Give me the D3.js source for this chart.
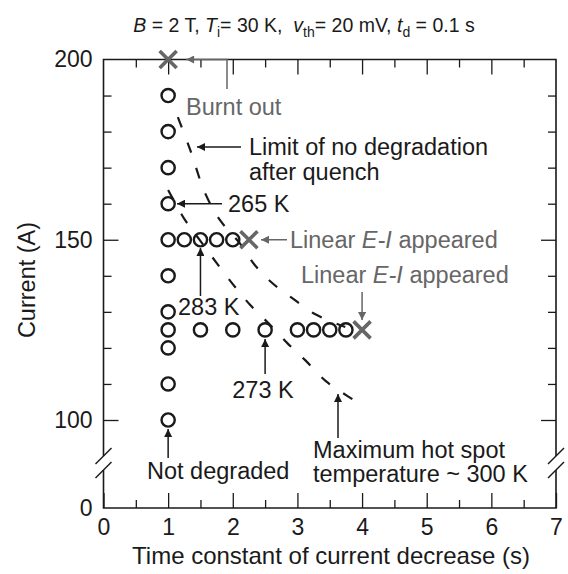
<!DOCTYPE html>
<html>
<head>
<meta charset="utf-8">
<script src="https://cdn.jsdelivr.net/npm/d3@7"></script>
<style>
  html, body { margin: 0; padding: 0; background: #fff; }
  svg { display: block; font-family: "Liberation Sans", Arial, sans-serif; }
  text { white-space: pre; }
</style>
</head>
<body>
<svg id="chart" width="568" height="574"></svg>
<script>
// Quench tests: time constant of current decrease vs. operating current
const xTicks = [0, 1, 2, 3, 4, 5, 6, 7];
const xMinorTicks = [0.5, 1.5, 2.5, 3.5, 4.5, 5.5, 6.5];
const yTicks = [0, 100, 150, 200];
const yMinorTicks = [110, 120, 130, 140, 160, 170, 180, 190];

// Not degraded samples (open circles)
const okTime    = [1, 1, 1, 1, 1, 1, 1, 1, 1, 1, 1,
                   1.25, 1.5, 1.75, 2,
                   1.5, 2, 2.5, 3, 3.25, 3.5, 3.75];
const okCurrent = [100, 110, 120, 125, 130, 140, 150, 160, 170, 180, 190,
                   150, 150, 150, 150,
                   125, 125, 125, 125, 125, 125, 125];

// Burnt out / linear E-I (crosses)
const failTime    = [1, 2.25, 4];
const failCurrent = [200, 150, 125];

// Limit of no degradation after quench
const limitTime    = [1.15, 1.34, 1.57, 1.8, 2.11, 2.34, 2.61, 2.92, 3.27, 3.74];
const limitCurrent = [184, 175, 163, 155.5, 149, 143, 138, 133.8, 129.4, 125.8];

// Maximum hot spot temperature ~ 300 K
const hotTime    = [1.0, 1.26, 1.49, 1.74, 2.0, 2.27, 2.55, 2.84, 3.12, 3.44, 3.77, 4.05];
const hotCurrent = [163.8, 155.5, 149.9, 143.8, 137.7, 131.9, 126.9, 121.4, 116.6, 110.8, 106.7, 103.6];

const svg = d3.select("#chart");
const ink = "#1a1a1a", grey = "#666666";

const x = d3.scaleLinear().domain([0, 7]).range([103.5, 556]);
// broken axis: 0 sits just under the break, 100..200 is linear
const y = d3.scaleLinear().domain([0, 100, 200]).range([508, 420, 59.5]);

// arrowheads
const defs = svg.append("defs");
[["arrowInk", ink], ["arrowGrey", grey]].forEach(([id, c]) => {
  defs.append("marker").attr("id", id)
    .attr("viewBox", "0 0 10 10").attr("refX", 10).attr("refY", 5)
    .attr("markerWidth", 10).attr("markerHeight", 8).attr("markerUnits", "userSpaceOnUse")
    .attr("orient", "auto")
    .append("path").attr("d", "M0,0 L10,5 L0,10 Z").attr("fill", c);
});

// axes with inward ticks
function styleAxis(g) {
  g.select(".domain").remove();
  g.selectAll("line").attr("stroke", ink).attr("stroke-width", 1.3);
  g.selectAll("text").attr("fill", ink).attr("font-size", 23)
    .attr("font-family", "Liberation Sans, Arial, sans-serif");
}
svg.append("g").attr("transform", `translate(0,${y(0)})`)
  .call(d3.axisBottom(x).tickValues(xTicks).tickSize(-15).tickPadding(11).tickFormat(d3.format("d")))
  .call(styleAxis);
svg.append("g").attr("transform", `translate(0,${y(0)})`)
  .call(d3.axisBottom(x).tickValues(xMinorTicks).tickSize(-8).tickFormat(""))
  .call(styleAxis);
svg.append("g").attr("transform", `translate(0,${y(200)})`)
  .call(d3.axisTop(x).tickValues(xTicks.slice(1, 7)).tickSize(-15).tickFormat(""))
  .call(styleAxis);
svg.append("g").attr("transform", `translate(0,${y(200)})`)
  .call(d3.axisTop(x).tickValues(xMinorTicks).tickSize(-8).tickFormat(""))
  .call(styleAxis);
svg.append("g").attr("transform", `translate(${x(0)},0)`)
  .call(d3.axisLeft(y).tickValues(yTicks).tickSize(-15).tickPadding(11).tickFormat(d3.format("d")))
  .call(styleAxis)
  .call(g => g.selectAll(".tick line").filter(d => d === 0 || d === 200).remove());
svg.append("g").attr("transform", `translate(${x(0)},0)`)
  .call(d3.axisLeft(y).tickValues(yMinorTicks).tickSize(-8).tickFormat(""))
  .call(styleAxis);
svg.append("g").attr("transform", `translate(${x(7)},0)`)
  .call(d3.axisRight(y).tickValues([100, 150]).tickSize(-15).tickFormat(""))
  .call(styleAxis);
svg.append("g").attr("transform", `translate(${x(7)},0)`)
  .call(d3.axisRight(y).tickValues(yMinorTicks).tickSize(-8).tickFormat(""))
  .call(styleAxis);

// frame with breaks on both vertical sides
const breakHi = 456, breakLo = 470;
const frame = d3.path();
frame.moveTo(x(0), breakHi); frame.lineTo(x(0), y(200)); frame.lineTo(x(7), y(200)); frame.lineTo(x(7), breakHi);
frame.moveTo(x(0), breakLo); frame.lineTo(x(0), y(0)); frame.lineTo(x(7), y(0)); frame.lineTo(x(7), breakLo);
svg.append("path").attr("d", frame.toString()).attr("fill", "none")
  .attr("stroke", ink).attr("stroke-width", 1.6);
[x(0), x(7)].forEach(px => {
  [breakHi, breakLo].forEach(py => {
    svg.append("line").attr("x1", px - 8).attr("y1", py + 8).attr("x2", px + 8).attr("y2", py - 8)
      .attr("stroke", ink).attr("stroke-width", 1.4);
  });
});

// dashed guide curves
const curve = d3.line().x(d => x(d[0])).y(d => y(d[1])).curve(d3.curveCatmullRom.alpha(0.5));
[[limitTime, limitCurrent], [hotTime, hotCurrent]].forEach(([ts, cs]) => {
  svg.append("path").datum(ts.map((t, i) => [t, cs[i]]))
    .attr("d", curve).attr("fill", "none")
    .attr("stroke", ink).attr("stroke-width", 2.2).attr("stroke-dasharray", "11,16");
});

// open circles
svg.append("g").selectAll("circle").data(okTime.map((t, i) => [t, okCurrent[i]]))
  .join("circle")
  .attr("cx", d => x(d[0])).attr("cy", d => y(d[1])).attr("r", 6.6)
  .attr("fill", "none").attr("stroke", ink).attr("stroke-width", 2.4);

// crosses
const s = 8.5;
svg.append("g").selectAll("path").data(failTime.map((t, i) => [t, failCurrent[i]]))
  .join("path")
  .attr("d", d => `M${x(d[0]) - s},${y(d[1]) - s}L${x(d[0]) + s},${y(d[1]) + s}M${x(d[0]) - s},${y(d[1]) + s}L${x(d[0]) + s},${y(d[1]) - s}`)
  .attr("stroke", grey).attr("stroke-width", 3.6).attr("fill", "none");

// annotations
const ann = svg.append("g").attr("font-size", 23.5);
function arrow(x1, y1, x2, y2, c, id) {
  ann.append("line").attr("x1", x1).attr("y1", y1).attr("x2", x2).attr("y2", y2)
    .attr("stroke", c).attr("stroke-width", 1.5).attr("marker-end", `url(#${id})`);
}
function label(px, py, str, c, anchor = "start") {
  return ann.append("text").attr("x", px).attr("y", py).attr("fill", c)
    .attr("text-anchor", anchor).attr("dominant-baseline", "central").text(str);
}

// Burnt out
ann.append("path").attr("d", `M227,89 L227,${y(200)} L${x(1) + 18},${y(200)}`)
  .attr("fill", "none").attr("stroke", grey).attr("stroke-width", 1.5).attr("marker-end", "url(#arrowGrey)");
label(186, 107, "Burnt out", grey);

// Limit of no degradation
arrow(241, 147, 197, 147, ink, "arrowInk");
label(249, 147, "Limit of no degradation", ink);
label(249, 172, "after quench", ink);

// 265 K
arrow(222, y(160), 177, y(160), ink, "arrowInk");
label(228, y(160), "265 K", ink);

// Linear E-I at 150 A
arrow(287, y(150), 261, y(150), grey, "arrowGrey");
const t1 = label(290, y(150), "", grey);
t1.append("tspan").text("Linear ");
t1.append("tspan").attr("font-style", "italic").text("E-I");
t1.append("tspan").text(" appeared");

// Linear E-I at 125 A
arrow(x(4), 292, x(4), 320, grey, "arrowGrey");
const t2 = label(301, 275, "", grey);
t2.append("tspan").text("Linear ");
t2.append("tspan").attr("font-style", "italic").text("E-I");
t2.append("tspan").text(" appeared");

// 283 K
arrow(x(1.5), 296, x(1.5), 248, ink, "arrowInk");
label(178, 307, "283 K", ink);

// 273 K
arrow(x(2.5), 374, x(2.5), 339, ink, "arrowInk");
label(263, 390, "273 K", ink, "middle");

// Maximum hot spot temperature
arrow(338, 438, 338, 394, ink, "arrowInk");
label(313, 450, "Maximum hot spot", ink);
label(313, 474, "temperature ~ 300 K", ink);

// Not degraded
arrow(x(1), 458, x(1), 429, ink, "arrowInk");
label(147, 471, "Not degraded", ink);

// title
const title = svg.append("text").attr("x", 304).attr("y", 32).attr("text-anchor", "middle")
  .attr("font-size", 19.5).attr("fill", ink);
title.append("tspan").attr("font-style", "italic").text("B");
title.append("tspan").text(" = 2 T, ");
title.append("tspan").attr("font-style", "italic").text("T");
title.append("tspan").attr("font-size", 14).attr("dy", 5).text("i");
title.append("tspan").attr("dy", -5).text("= 30 K,  ");
title.append("tspan").attr("font-style", "italic").text("v");
title.append("tspan").attr("font-size", 14).attr("dy", 5).text("th");
title.append("tspan").attr("dy", -5).text("= 20 mV, ");
title.append("tspan").attr("font-style", "italic").text("t");
title.append("tspan").attr("font-size", 14).attr("dy", 5).text("d");
title.append("tspan").attr("dy", -5).text(" = 0.1 s");

// axis titles
svg.append("text").attr("x", 331).attr("y", 555).attr("text-anchor", "middle")
  .attr("dominant-baseline", "central").attr("font-size", 24).attr("fill", ink)
  .text("Time constant of current decrease (s)");
svg.append("text").attr("transform", "translate(27,280) rotate(-90)").attr("text-anchor", "middle")
  .attr("dominant-baseline", "central").attr("font-size", 23.5).attr("fill", ink)
  .text("Current (A)");
</script>
</body>
</html>
